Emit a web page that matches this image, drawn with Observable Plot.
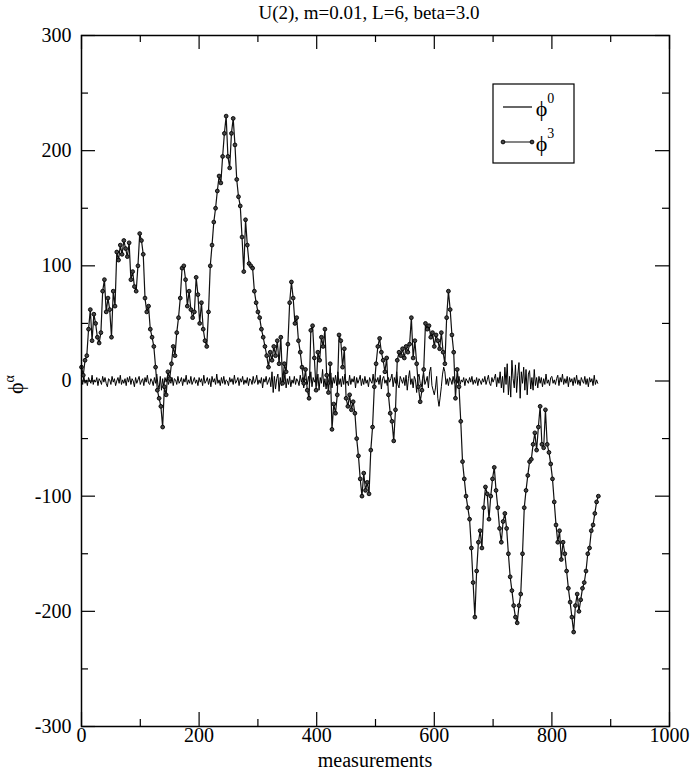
<!DOCTYPE html>
<html><head><meta charset="utf-8">
<script src="https://cdn.jsdelivr.net/npm/d3@7"></script>
<script src="https://cdn.jsdelivr.net/npm/@observablehq/plot@0.6"></script>
<style>body{margin:0;background:#fff} svg{display:block}</style>
</head><body><div id="chart"></div>
<script>
const title = "U(2), m=0.01, L=6, beta=3.0";
const xLabel = "measurements";
const yLabelBase = "\u03D5";
const yLabelSup = "\u03B1";
const seriesNames = ["0", "3"];
const xTicksMajor = [0, 200, 400, 600, 800, 1000];
const xTicksMinor = [100, 300, 500, 700, 900];
const yTicksMajor = [-300, -200, -100, 0, 100, 200, 300];
const yTicksMinor = [-250, -150, -50, 50, 150, 250];

// phi^3, one value every 3 measurements
const phi3Step = 3;
const phi3 = [
  12,5,18,22,45,62,35,58,50,38,
  33,42,78,88,60,72,62,38,78,65,
  112,105,118,110,122,115,108,120,88,95,
  82,78,100,128,122,110,72,60,65,45,
  38,30,12,-8,-15,-22,-40,-5,-12,8,
  2,15,30,22,42,55,72,98,100,88,
  65,78,62,55,60,90,75,50,68,45,
  35,30,60,100,118,138,150,165,178,172,
  195,215,230,195,185,215,228,205,175,160,
  152,125,95,140,118,102,100,98,78,68,
  60,55,45,38,30,22,12,25,18,30,
  22,35,15,38,-2,15,8,32,68,86,
  72,50,55,35,25,12,-2,10,-8,-15,
  44,48,20,-8,25,18,38,30,45,5,
  -10,15,-42,-20,-28,-12,40,35,12,28,
  -15,-22,-12,-25,-18,-28,-50,-65,-85,-100,
  -80,-95,-88,-98,-60,-40,-5,15,30,37,
  25,18,8,20,-12,-28,-35,-52,-25,18,
  25,22,28,20,30,25,32,55,20,35,
  15,-5,-18,-8,10,50,45,48,38,42,
  30,40,35,28,42,25,15,55,78,62,
  40,25,-15,10,-5,-35,-70,-85,-100,-110,
  -120,-145,-175,-205,-165,-140,-130,-145,-110,-92,
  -98,-120,-100,-85,-75,-95,-110,-128,-140,-122,
  -115,-128,-150,-170,-182,-195,-205,-210,-195,-185,
  -150,-110,-95,-82,-70,-68,-55,-45,-60,-40,
  -22,-55,-58,-25,-55,-62,-72,-85,-105,-125,
  -140,-130,-155,-140,-150,-165,-180,-192,-205,-218,
  -195,-185,-200,-190,-180,-175,-165,-150,-145,-130,
  -125,-115,-105,-100
];

// phi^0, one value every 2 measurements
const phi0Step = 2;
const phi0 = [
  2,-3,4,-2,1,-4,3,0,-2,5,-3,1,-1,3,-4,2,0,-3,4,-1,
  3,-2,-5,2,1,-3,4,-1,2,-4,0,3,-2,5,-3,1,-2,2,-4,3,
  -1,4,-3,2,0,-5,3,-2,1,4,-3,0,2,-4,3,-1,5,-2,-3,2,
  0,-4,3,-2,6,-3,-7,4,-8,2,-5,3,-1,4,-3,1,-2,3,-4,2,
  1,-3,4,-2,0,3,-4,2,-1,5,-3,1,-2,4,-3,0,3,-2,1,-4,
  3,-1,2,-4,5,-2,0,3,-3,2,-5,4,-1,2,-3,6,-2,1,-4,3,
  -2,4,-3,1,0,-4,3,-1,2,-3,5,-2,0,3,-4,2,-1,4,-3,1,
  -2,3,-4,2,1,-3,4,-2,0,5,-3,1,-2,3,-6,2,-1,4,-3,0,
  3,-5,8,-10,4,-7,2,6,-9,3,-4,5,-2,7,-6,2,-3,4,-5,1,
  -2,4,-3,2,0,-4,5,-1,3,-6,2,1,-3,4,-2,8,-5,3,-1,2,
  -4,6,-8,3,-2,10,-5,2,-7,4,0,-3,7,-6,3,-2,5,-4,8,-3,
  2,-5,4,-3,6,-2,0,-4,5,-3,2,-1,4,-6,3,-2,1,5,-4,2,
  -3,4,-2,1,-5,3,0,-2,6,-4,2,-1,3,-3,5,-7,2,4,-2,1,
  -4,3,-1,2,6,-5,3,-2,8,-3,-6,4,1,-2,3,-4,5,-8,2,9,
  -3,2,-6,4,1,-10,3,6,-2,-5,2,7,-3,0,4,-6,8,12,-4,-8,
  -12,-6,4,-15,-22,-14,-5,6,12,8,-3,2,-4,3,1,-3,4,-2,0,3,
  -2,4,-3,1,-1,3,-4,2,0,-2,3,-1,4,-3,1,-2,3,-4,2,0,
  -3,2,-1,4,-3,1,5,-2,-4,3,-1,2,6,-5,3,-2,8,-6,4,-10,
  12,-3,15,-12,4,-14,18,2,-6,14,-10,5,16,-15,8,-2,12,-8,10,-12,
  6,9,-7,3,-8,10,-4,3,-6,4,-2,3,-5,2,-3,6,-2,1,-4,3,
  4,-2,1,-3,2,5,-4,3,-1,6,-3,2,-2,4,-5,3,-1,2,-4,3,
  -2,5,-3,1,-4,3,0,-2,4,-3,2,-5,3,-1,2,-4,5,-3,1,-2
];

const p3 = phi3.map((v, i) => ({m: i * phi3Step, v}));
const p0 = phi0.map((v, i) => ({m: i * phi0Step, v}));

const W = 692, H = 770, mL = 81, mR = 23, mT = 35, mB = 44;
const iw = W - mL - mR, ih = H - mT - mB;
const majorLen = 14, minorLen = 7;
const font = "'Liberation Serif','Times New Roman',serif";

const chart = Plot.plot({
  width: W, height: H,
  marginLeft: mL, marginRight: mR, marginTop: mT, marginBottom: mB,
  style: {fontFamily: font, color: "#000", background: "#fff", overflow: "visible"},
  x: {domain: [0, 1000]},
  y: {domain: [-300, 300]},
  marks: [
    Plot.line(p0, {x: "m", y: "v", stroke: "#000", strokeWidth: 1}),
    Plot.line(p3, {x: "m", y: "v", stroke: "#111", strokeWidth: 1.2}),
    Plot.dot(p3, {x: "m", y: "v", r: 1.9, stroke: "#000", strokeWidth: 0.9, fill: "#444"}),
    Plot.frame({stroke: "#000", strokeWidth: 1.5}),
    Plot.tickX(xTicksMajor, {x: d => d, insetTop: ih - majorLen, stroke: "#000", strokeWidth: 1.2}),
    Plot.tickX(xTicksMajor, {x: d => d, insetBottom: ih - majorLen, stroke: "#000", strokeWidth: 1.2}),
    Plot.tickX(xTicksMinor, {x: d => d, insetTop: ih - minorLen, stroke: "#000", strokeWidth: 1.2}),
    Plot.tickX(xTicksMinor, {x: d => d, insetBottom: ih - minorLen, stroke: "#000", strokeWidth: 1.2}),
    Plot.tickY(yTicksMajor, {y: d => d, insetRight: iw - majorLen, stroke: "#000", strokeWidth: 1.2}),
    Plot.tickY(yTicksMajor, {y: d => d, insetLeft: iw - majorLen, stroke: "#000", strokeWidth: 1.2}),
    Plot.tickY(yTicksMinor, {y: d => d, insetRight: iw - minorLen, stroke: "#000", strokeWidth: 1.2}),
    Plot.tickY(yTicksMinor, {y: d => d, insetLeft: iw - minorLen, stroke: "#000", strokeWidth: 1.2}),
    Plot.axisX(xTicksMajor, {tickSize: 0, tickPadding: 1, tickFormat: d => String(d), fontSize: 20, label: null}),
    Plot.axisY(yTicksMajor, {tickSize: 0, tickPadding: 10, tickFormat: d => String(d), fontSize: 20, label: null})
  ]
});
document.getElementById("chart").appendChild(chart);

const svg = d3.select(chart);
const cx = mL + iw / 2;
svg.append("text").attr("x", cx - 6).attr("y", 19).attr("text-anchor", "middle").attr("fill", "#000")
  .attr("font-family", font).attr("font-size", 19).text(title);
svg.append("text").attr("x", cx).attr("y", 767).attr("text-anchor", "middle").attr("fill", "#000")
  .attr("font-family", font).attr("font-size", 20).text(xLabel);
const yl = svg.append("text").attr("transform", `translate(23,${mT + ih / 2 + 4}) rotate(-90)`)
  .attr("text-anchor", "middle").attr("fill", "#000").attr("font-family", font).attr("font-size", 22);
yl.append("tspan").text(yLabelBase);
yl.append("tspan").attr("dy", -9).attr("font-size", 14).text(yLabelSup);

// legend
const lg = svg.append("g");
lg.append("rect").attr("x", 493).attr("y", 84).attr("width", 81).attr("height", 79)
  .attr("fill", "#fff").attr("stroke", "#000").attr("stroke-width", 1.2);
const rows = [{y: 107, dots: false}, {y: 142, dots: true}];
rows.forEach((r, i) => {
  lg.append("line").attr("x1", 503).attr("x2", 532).attr("y1", r.y).attr("y2", r.y)
    .attr("stroke", r.dots ? "#333" : "#000").attr("stroke-width", 1.2);
  if (r.dots) {
    [503, 532].forEach(x => lg.append("circle").attr("cx", x).attr("cy", r.y).attr("r", 1.9)
      .attr("fill", "#444").attr("stroke", "#000").attr("stroke-width", 0.9));
  }
  const t = lg.append("text").attr("x", 545).attr("y", r.y + 9).attr("fill", "#000")
    .attr("font-family", font).attr("font-size", 22);
  t.append("tspan").attr("fill", "#000").text(yLabelBase);
  t.append("tspan").attr("dy", -13).attr("font-size", 14).attr("fill", "#000").text(seriesNames[i]);
});
</script>
</body></html>
